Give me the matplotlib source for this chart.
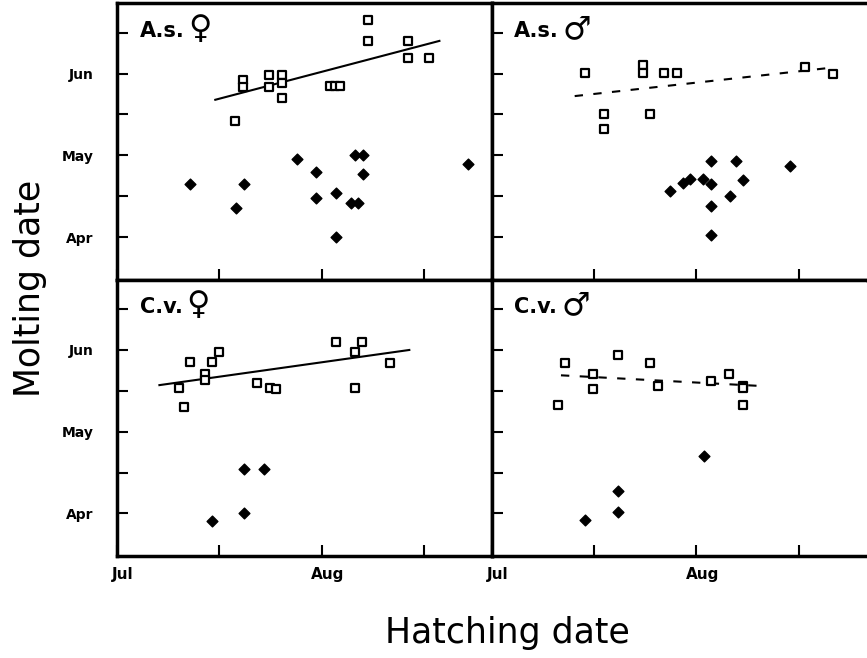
import matplotlib
matplotlib.use("Agg")
import matplotlib.pyplot as plt
import matplotlib.transforms as mtransforms

# x: months after Jul 1 (Jul=0, Aug=1); y: months after Apr 1 (Apr=0, May=1, Jun=2)

# A.s. female
as_f_sq_x = [0.578, 0.616, 0.616, 0.742, 0.742, 0.807, 0.807, 0.807, 1.040, 1.065, 1.090, 1.228, 1.228, 1.423, 1.423, 1.526]
as_f_sq_y = [1.42, 1.92, 1.84, 1.98, 1.84, 1.98, 1.89, 1.70, 1.85, 1.85, 1.85, 2.65, 2.40, 2.40, 2.19, 2.19]
as_f_dm_x = [0.355, 0.583, 0.619, 0.877, 0.971, 0.971, 1.070, 1.070, 1.145, 1.179, 1.163, 1.201, 1.201, 1.714]
as_f_dm_y = [0.655, 0.36, 0.655, 0.95, 0.80, 0.48, 0.545, 0.0, 0.415, 0.415, 1.01, 1.01, 0.776, 0.90]
as_f_fit_x = [0.48, 1.575]
as_f_fit_y = [1.68, 2.40]

# A.s. male
as_m_sq_x = [0.458, 0.549, 0.549, 0.741, 0.741, 0.773, 0.843, 0.908, 1.531, 1.668]
as_m_sq_y = [2.01, 1.51, 1.32, 2.10, 2.01, 1.51, 2.01, 2.01, 2.08, 2.00]
as_m_dm_x = [0.874, 0.935, 0.968, 1.034, 1.071, 1.071, 1.071, 1.071, 1.164, 1.194, 1.228, 1.460]
as_m_dm_y = [0.57, 0.66, 0.715, 0.715, 0.93, 0.655, 0.38, 0.02, 0.505, 0.93, 0.70, 0.87]
as_m_fit_x = [0.406, 1.652]
as_m_fit_y = [1.725, 2.07]

# C.v. female
cv_f_sq_x = [0.302, 0.327, 0.358, 0.428, 0.428, 0.462, 0.497, 0.685, 0.745, 0.779, 1.070, 1.162, 1.162, 1.199, 1.332]
cv_f_sq_y = [1.53, 1.30, 1.85, 1.71, 1.63, 1.85, 1.98, 1.59, 1.53, 1.52, 2.10, 1.98, 1.53, 2.10, 1.845]
cv_f_dm_x = [0.466, 0.619, 0.717, 0.619]
cv_f_dm_y = [-0.09, 0.55, 0.55, 0.0]
cv_f_fit_x = [0.207, 1.428]
cv_f_fit_y = [1.57, 2.00]

# C.v. male
cv_m_sq_x = [0.324, 0.358, 0.495, 0.495, 0.620, 0.775, 0.811, 1.070, 1.162, 1.228, 1.228, 1.228]
cv_m_sq_y = [1.33, 1.84, 1.71, 1.52, 1.94, 1.84, 1.56, 1.62, 1.71, 1.56, 1.53, 1.33]
cv_m_dm_x = [0.458, 0.620, 0.620, 1.037]
cv_m_dm_y = [-0.08, 0.28, 0.02, 0.70]
cv_m_fit_x = [0.339, 1.312]
cv_m_fit_y = [1.69, 1.56]

panels = [
    ("A.s.", "\u2640", as_f_sq_x, as_f_sq_y, as_f_dm_x, as_f_dm_y, as_f_fit_x, as_f_fit_y, "-"),
    ("A.s.", "\u2642", as_m_sq_x, as_m_sq_y, as_m_dm_x, as_m_dm_y, as_m_fit_x, as_m_fit_y, (0, (4, 5))),
    ("C.v.", "\u2640", cv_f_sq_x, cv_f_sq_y, cv_f_dm_x, cv_f_dm_y, cv_f_fit_x, cv_f_fit_y, "-"),
    ("C.v.", "\u2642", cv_m_sq_x, cv_m_sq_y, cv_m_dm_x, cv_m_dm_y, cv_m_fit_x, cv_m_fit_y, (0, (4, 5))),
]

fig, axes = plt.subplots(2, 2, figsize=(8.67, 6.58), dpi=100)
fig.subplots_adjust(left=0.135, right=0.999, top=0.995, bottom=0.155, wspace=0, hspace=0)

for ax, (title, sym, sx, sy, dx, dy, fx, fy, ls) in zip(axes.flat, panels):
    ax.plot(fx, fy, color="black", lw=1.5, linestyle=ls, zorder=2)
    ax.scatter(sx, sy, marker="s", s=38, facecolors="white", edgecolors="black", linewidths=1.6, zorder=3)
    ax.scatter(dx, dy, marker="D", s=30, color="black", zorder=3)
    ax.set_xlim(0, 1.83)
    ax.set_ylim(-0.52, 2.86)
    ax.set_xticks([0, 1])
    ax.set_xticks([0.5, 1.5], minor=True)
    ax.set_yticks([0, 1, 2])
    ax.set_yticks([0.5, 1.5, 2.5], minor=True)
    ax.tick_params(which="both", direction="in", length=8, width=1.5, top=False, right=False)
    ax.set_xticklabels([])
    ax.set_yticklabels([])
    for sp in ax.spines.values():
        sp.set_linewidth(2.5)
    t = ax.text(0.06, 0.9, title, transform=ax.transAxes, fontsize=15, fontweight="bold", va="center", ha="left")
    ax.annotate(sym, xy=(1, 0.5), xycoords=t, xytext=(3, 1), textcoords="offset points",
                fontsize=23, fontweight="bold", va="center", ha="left")

for ax in axes[:, 1]:
    ax.spines["right"].set_visible(False)

for ax in axes[:, 0]:
    ax.set_yticklabels(["Apr", "May", "Jun"], fontsize=10, fontweight="bold")
    ax.tick_params(axis="y", pad=17)

offset = mtransforms.ScaledTranslation(6 / 100, 0, fig.dpi_scale_trans)
for ax in axes[1, :]:
    ax.set_xticklabels(["Jul", "Aug"], fontsize=11, fontweight="bold")
    ax.tick_params(axis="x", pad=8)
    for lab in ax.get_xticklabels():
        lab.set_transform(lab.get_transform() + offset)

fig.text(0.035, 0.562, "Molting date", rotation=90, fontsize=25, va="center", ha="center")
fig.text(0.585, 0.038, "Hatching date", fontsize=25, va="center", ha="center")

fig.savefig("out.png", dpi=100)
